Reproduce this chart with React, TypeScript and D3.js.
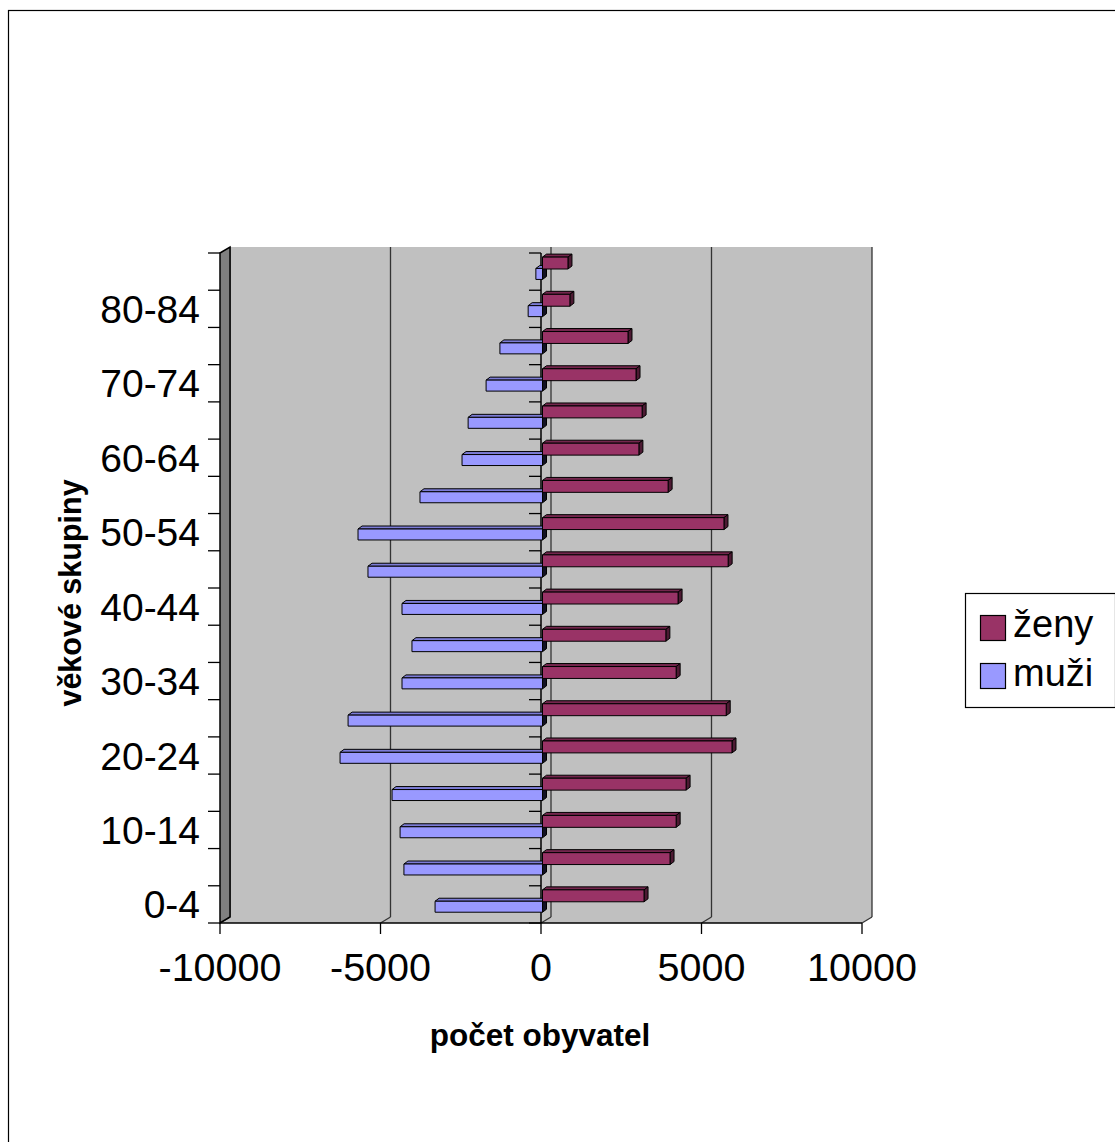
import React from "react";
import * as d3 from "d3";

const categories = ["0-4","5-9","10-14","15-19","20-24","25-29","30-34","35-39","40-44","45-49","50-54","55-59","60-64","65-69","70-74","75-79","80-84","85+"];
const zeny = [3210, 4020, 4210, 4520, 5950, 5770, 4210, 3890, 4270, 5830, 5700, 3960, 3050, 3150, 2960, 2710, 900, 840];
const muzi = [-3300, -4270, -4390, -4640, -6260, -6010, -4330, -4020, -4330, -5390, -5700, -3770, -2460, -2270, -1710, -1280, -400, -160];
const xTicks = [-10000, -5000, 0, 5000, 10000];
const seriesNames = ["ženy", "muži"];

const FONT = "'Liberation Sans', Arial, Helvetica, sans-serif";

export default function App() {
  const W = 1115, H = 1142;
  const x = d3.scaleLinear().domain([-10000, 10000]).range([220, 862]);
  const y = d3.scaleBand<string>().domain(categories).range([923, 253]).padding(0);
  const bw = y.bandwidth();
  const DX = 10, DY = -6; // wall depth
  const bdx = 4, bdy = -3; // bar depth
  const wallTop = 253 + DY, wallBot = 923 + DY;
  const boundaries = d3.range(categories.length + 1).map(i => 923 - i * bw);

  const pts = (a: number[][]) => a.map(p => p.join(",")).join(" ");

  const bar = (v: number, yt: number, f0: number, f1: number, col: { front: string; top: string; end: string }, key: string) => {
    const xa = Math.min(x(v), x(0) + 1.5), xb = Math.max(x(v), x(0) + 1.5);
    const y0 = yt + f0 * bw, y1 = yt + f1 * bw;
    return (
      <g key={key} stroke="#000" strokeWidth={1} strokeLinejoin="round">
        <polygon points={pts([[xa, y0], [xa + bdx, y0 + bdy], [xb + bdx, y0 + bdy], [xb, y0]])} fill={col.top} />
        <polygon points={pts([[xb, y0], [xb + bdx, y0 + bdy], [xb + bdx, y1 + bdy], [xb, y1]])} fill={col.end} />
        <rect x={xa} y={y0} width={xb - xa} height={y1 - y0} fill={col.front} />
      </g>
    );
  };

  const zCol = { front: "#993366", top: "#74264d", end: "#4d1a33" };
  const mCol = { front: "#9999FF", top: "#7c7cd6", end: "#111122" };

  return (
    <svg width={W} height={H} style={{ position: "absolute", left: 0, top: 0, background: "#fff" }} fontFamily={FONT}>
      <rect x={8.5} y={10.5} width={1200} height={1200} fill="#fff" stroke="#000" strokeWidth={1.2} />
      {/* back wall */}
      <rect x={x(-10000) + DX} y={wallTop} width={x(10000) - x(-10000)} height={wallBot - wallTop} fill="#C0C0C0" />
      {/* floor */}
      <polygon points={pts([[x(-10000), 923], [x(-10000) + DX, wallBot], [x(10000) + DX, wallBot], [x(10000), 923]])} fill="#C0C0C0" />
      {/* gridlines on back wall */}
      {xTicks.map(t => (
        <line key={"g" + t} x1={x(t) + DX} x2={x(t) + DX} y1={wallTop} y2={wallBot} stroke="#333" strokeWidth={1.3} />
      ))}
      {xTicks.map(t => (
        <line key={"fd" + t} x1={x(t)} y1={923} x2={x(t) + DX} y2={wallBot} stroke="#333" strokeWidth={1.2} />
      ))}
      {/* left wall */}
      <polygon points={pts([[x(-10000), 253], [x(-10000) + DX, wallTop], [x(-10000) + DX, wallBot], [x(-10000), 923]])} fill="#808080" stroke="#000" strokeWidth={1.5} />
      {/* left category ticks */}
      {boundaries.map((b, i) => (
        <line key={"lt" + i} x1={208} x2={x(-10000)} y1={b} y2={b} stroke="#000" strokeWidth={1.3} />
      ))}
      {/* zero category axis */}
      <line x1={x(0)} x2={x(0)} y1={253} y2={923} stroke="#000" strokeWidth={1.5} />
      {boundaries.map((b, i) => (
        <line key={"zt" + i} x1={x(0) - 12} x2={x(0)} y1={b} y2={b} stroke="#000" strokeWidth={1.3} />
      ))}
      {/* bars */}
      {categories.map((c, i) => {
        const yt = y(c)!;
        return (
          <g key={"b" + c}>
            {bar(muzi[i], yt, 0.415, 0.71, mCol, "m" + c)}
            {bar(zeny[i], yt, 0.11, 0.43, zCol, "z" + c)}
          </g>
        );
      })}
      {/* value axis */}
      <line x1={x(-10000)} x2={x(10000)} y1={923} y2={923} stroke="#000" strokeWidth={1.5} />
      {xTicks.map(t => (
        <g key={"xt" + t}>
          <line x1={x(t)} x2={x(t)} y1={923} y2={934} stroke="#000" strokeWidth={1.3} />
          <text x={x(t)} y={981} fontSize={39.5} textAnchor="middle" fill="#000">{t}</text>
        </g>
      ))}
      {/* category labels */}
      {categories.map((c, i) => i % 2 === 0 ? (
        <text key={"cl" + c} x={200} y={y(c)! + bw / 2 + 14} fontSize={39} textAnchor="end" fill="#000">{c}</text>
      ) : null)}
      {/* axis titles */}
      <text x={540} y={1046} fontSize={31.5} fontWeight="bold" textAnchor="middle" fill="#000">počet obyvatel</text>
      <text transform="translate(81,593) rotate(-90)" fontSize={30.5} fontWeight="bold" textAnchor="middle" fill="#000">věkové skupiny</text>
      {/* legend */}
      <rect x={965.5} y={593.5} width={150} height={114} fill="#fff" stroke="#000" strokeWidth={1.2} />
      {seriesNames.map((s, i) => (
        <g key={"lg" + s}>
          <rect x={980.5} y={615.5 + i * 48} width={25} height={25} fill={i === 0 ? zCol.front : mCol.front} stroke="#000" strokeWidth={1.2} />
          <text x={1013} y={637 + i * 49} fontSize={38} fill="#000">{s}</text>
        </g>
      ))}
    </svg>
  );
}
